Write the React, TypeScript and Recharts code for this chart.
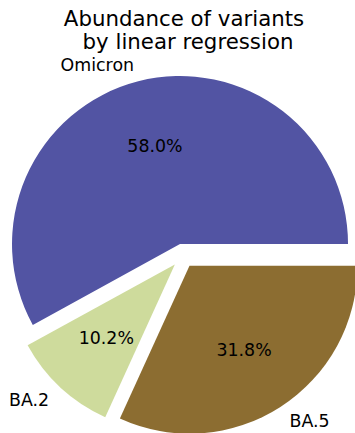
import React from "react";
import { PieChart, Pie, Cell } from "recharts";

const variants = ["Omicron", "BA.2", "BA.5"];
const abundance = [58.0, 10.2, 31.8];
const colors = ["#5254a3", "#cedb9c", "#8c6d31"];
const titleLines = ["Abundance of variants", "by linear regression"];

const W = 355;
const H = 433;
const CX = 183;
const CY = 255.6;
const R = 168;
const EXPLODE = 12; // px each wedge is pushed out along its mid angle
const FONT = "'DejaVu Sans', 'Liberation Sans', sans-serif";
const RAD = Math.PI / 180;

const data = variants.map((name, i) => ({ name, value: abundance[i] }));
const total = abundance.reduce((a, b) => a + b, 0);

// mid angle of every wedge, counterclockwise from 3 o'clock
const midAngles: number[] = [];
abundance.reduce((start, v) => {
  const span = (v / total) * 360;
  midAngles.push(start + span / 2);
  return start + span;
}, 0);

const renderLabel = (slice: number) => (props: any) => {
  if (props.index !== slice) return null;
  const { cx, cy, midAngle, outerRadius, percent, name } = props;
  const cos = Math.cos(-midAngle * RAD);
  const sin = Math.sin(-midAngle * RAD);
  return (
    <g>
      <text
        x={cx + cos * outerRadius * 0.6}
        y={cy + sin * outerRadius * 0.6}
        textAnchor="middle"
        dominantBaseline="central"
        fontFamily={FONT}
        fontSize={17.4}
        fill="#000"
      >
        {(percent * 100).toFixed(1)}%
      </text>
      <text
        x={cx + cos * outerRadius * 1.1}
        y={cy + sin * outerRadius * 1.1}
        textAnchor={cos < 0 ? "end" : "start"}
        dominantBaseline="central"
        fontFamily={FONT}
        fontSize={17.4}
        fill="#000"
      >
        {name}
      </text>
    </g>
  );
};

export default function App() {
  return (
    <div style={{ position: "absolute", left: 0, top: 0, width: W, height: H, background: "#fff" }}>
      <PieChart width={W} height={H} margin={{ top: 0, right: 0, bottom: 0, left: 0 }}>
        {variants.map((v, slice) => (
          <Pie
            key={v}
            data={data}
            dataKey="value"
            nameKey="name"
            cx={CX + EXPLODE * Math.cos(midAngles[slice] * RAD)}
            cy={CY - EXPLODE * Math.sin(midAngles[slice] * RAD)}
            innerRadius={0}
            outerRadius={R}
            startAngle={0}
            endAngle={360}
            label={renderLabel(slice)}
            labelLine={false}
            isAnimationActive={false}
          >
            {data.map((d, i) => (
              <Cell key={d.name} fill={i === slice ? colors[i] : "none"} stroke="none" />
            ))}
          </Pie>
        ))}
      </PieChart>
      <svg
        width={W}
        height={60}
        style={{ position: "absolute", left: 0, top: 0, pointerEvents: "none" }}
      >
        <text x={184} y={25.5} textAnchor="middle" fontFamily={FONT} fontSize={21.3} fill="#000">
          {titleLines[0]}
        </text>
        <text x={188} y={49} textAnchor="middle" fontFamily={FONT} fontSize={21.3} fill="#000">
          {titleLines[1]}
        </text>
      </svg>
    </div>
  );
}
